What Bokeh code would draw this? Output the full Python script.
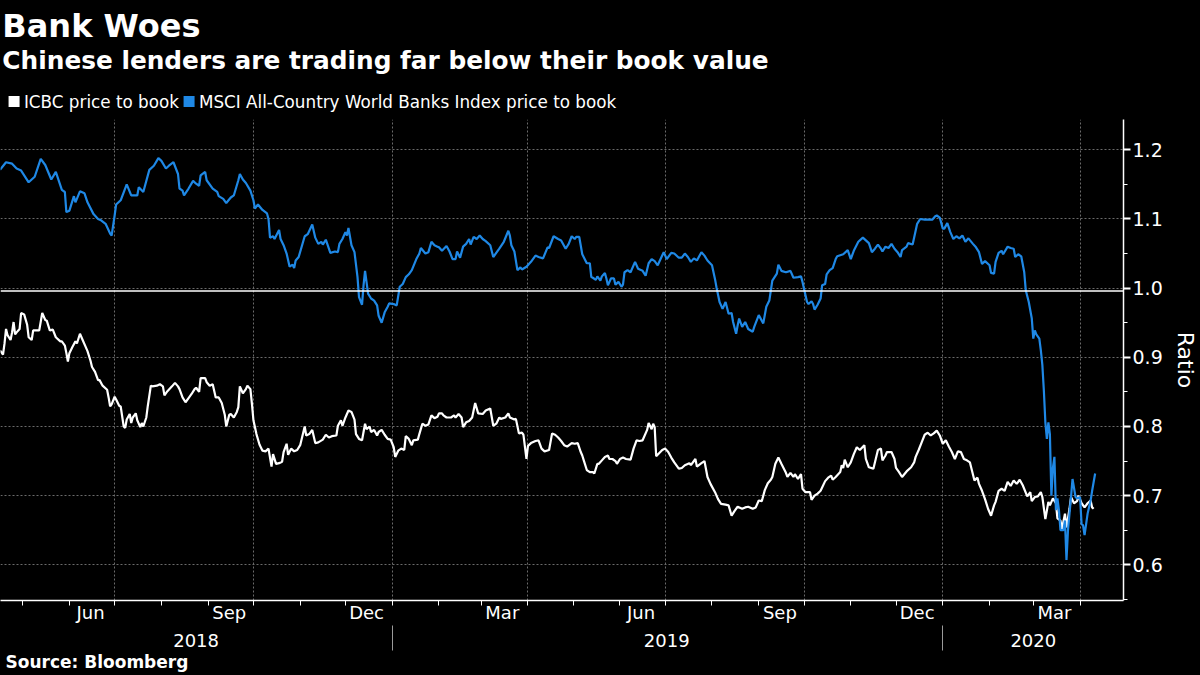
import pandas as pd
from bokeh.plotting import figure
from bokeh.layouts import column
from bokeh.core.properties import value
from bokeh.models import (FixedTicker, LinearAxis, Span, Range1d, Title,
                          NumeralTickFormatter)
from bokeh.embed import file_html
from bokeh.resources import INLINE

# ---------------- data ----------------
base_date = "2018-04-16"   # day 0 of the day offsets below

icbc_days = [0, 2, 3, 4, 5, 7, 8, 9, 10, 11, 13, 14, 16, 18, 19, 21, 22, 24, 26, 28, 30, 31, 33, 35, 37, 40, 41, 43, 44, 45, 46, 48, 50, 51, 53, 55, 57, 58, 60, 61, 63, 65, 66, 68, 71, 72, 73, 74, 76, 77, 79, 80, 82, 83, 84, 86, 87, 88, 90, 91, 93, 94, 95, 97, 98, 100, 101, 104, 106, 108, 109, 111, 114, 116, 118, 119, 121, 123, 125, 127, 129, 130, 132, 133, 136, 137, 139, 141, 143,
             145, 147, 149, 150, 152, 153, 155, 157, 158, 159, 161, 163, 164, 166, 167, 168, 170, 172, 174, 176, 178, 180, 181, 183, 185, 187, 188, 190, 191, 193, 195, 197, 199, 202, 203, 205, 207, 209, 211, 214, 216, 218, 220, 223, 224, 226, 227, 229, 231, 233, 235, 236, 238, 240, 242, 243, 245, 246, 248, 250, 251, 253, 255, 257, 259, 261, 262, 264, 266, 268, 269, 271, 273, 274, 277, 278, 280, 282, 284, 286, 288, 290,
             291, 293, 294, 296, 299, 301, 302, 304, 306, 307, 309, 311, 313, 315, 317, 320, 322, 325, 327, 329, 331, 332, 335, 337, 338, 341, 342, 344, 346, 347, 349, 350, 352, 355, 357, 359, 361, 364, 366, 368, 370, 372, 374, 376, 379, 381, 383, 385, 386, 387, 389, 391, 393, 394, 396, 397, 399, 401, 403, 404, 406, 408, 409, 411, 413, 415, 418, 420, 422, 424, 426, 429, 430, 432, 433, 434, 435,
             439, 441, 443, 445, 447, 450, 452, 454, 457, 458, 461, 462, 465, 467, 469, 471, 474, 476, 478, 481, 483, 485, 487, 489, 492, 494, 496, 499, 501, 503, 505, 507, 509, 511, 512, 514, 516, 518, 521, 522, 524, 526, 527, 529, 531, 532, 534, 537, 538, 540, 542, 544, 547, 549, 551, 552, 554, 557, 558, 559, 560, 562, 564, 566, 568, 570, 573, 574, 576, 579, 580,
             582, 584, 585, 587, 588, 591, 593, 594, 596, 598, 601, 604, 606, 607, 609, 611, 613, 615, 617, 619, 621, 623, 625, 627, 629, 631, 633, 635, 637, 639, 641, 643, 646, 648, 649, 651, 653, 655, 657, 659, 660, 662, 664, 666, 668, 670, 672, 674, 676, 678, 681, 683, 684, 686, 688, 690, 691, 693, 695, 696, 698, 700, 701, 703, 704, 706, 707, 709, 710, 712, 714, 715, 717, 719, 721, 723, 724, 725]
icbc_pb = [0.910, 0.904, 0.920, 0.941, 0.932, 0.925, 0.936, 0.951, 0.933, 0.936, 0.941, 0.964, 0.962, 0.947, 0.929, 0.925, 0.939, 0.939, 0.939, 0.964, 0.954, 0.953, 0.939, 0.940, 0.929, 0.923, 0.923, 0.917, 0.906, 0.894, 0.906, 0.915, 0.923, 0.920, 0.934, 0.924, 0.914, 0.909, 0.895, 0.886, 0.879, 0.867, 0.867, 0.859, 0.853, 0.842, 0.829, 0.832, 0.843, 0.839, 0.830, 0.829, 0.800, 0.798, 0.810, 0.818, 0.805, 0.813, 0.819, 0.809, 0.799, 0.805, 0.800, 0.813, 0.830, 0.859, 0.858, 0.859, 0.861, 0.858, 0.845, 0.851, 0.858, 0.863, 0.858, 0.854, 0.842, 0.835, 0.841, 0.847, 0.854, 0.856, 0.850, 0.870, 0.870, 0.864, 0.859, 0.861, 0.842,
           0.842, 0.834, 0.817, 0.800, 0.817, 0.818, 0.813, 0.821, 0.828, 0.858, 0.848, 0.854, 0.859, 0.854, 0.833, 0.809, 0.789, 0.774, 0.765, 0.764, 0.768, 0.742, 0.760, 0.746, 0.747, 0.749, 0.763, 0.775, 0.759, 0.768, 0.764, 0.766, 0.773, 0.800, 0.787, 0.789, 0.795, 0.776, 0.777, 0.781, 0.788, 0.784, 0.786, 0.787, 0.801, 0.809, 0.801, 0.813, 0.823, 0.821, 0.810, 0.789, 0.782, 0.780, 0.804, 0.796, 0.800, 0.792, 0.795, 0.787, 0.792, 0.795, 0.788, 0.782, 0.781, 0.770, 0.756, 0.765, 0.768, 0.766, 0.786, 0.782, 0.773, 0.780, 0.781, 0.789, 0.804, 0.801, 0.803, 0.816, 0.812, 0.814,
           0.819, 0.819, 0.816, 0.813, 0.813, 0.816, 0.813, 0.818, 0.813, 0.799, 0.806, 0.808, 0.813, 0.834, 0.819, 0.818, 0.823, 0.826, 0.801, 0.804, 0.813, 0.811, 0.813, 0.819, 0.813, 0.810, 0.811, 0.790, 0.791, 0.788, 0.753, 0.772, 0.776, 0.779, 0.780, 0.768, 0.764, 0.766, 0.790, 0.788, 0.784, 0.779, 0.773, 0.771, 0.776, 0.775, 0.776, 0.763, 0.758, 0.751, 0.737, 0.734, 0.734, 0.732, 0.746, 0.746, 0.751, 0.756, 0.758, 0.753, 0.753, 0.750, 0.746, 0.753, 0.755, 0.753, 0.752, 0.768, 0.780, 0.779, 0.780, 0.795, 0.805, 0.796, 0.804, 0.799, 0.757,
           0.766, 0.768, 0.763, 0.755, 0.748, 0.739, 0.740, 0.744, 0.747, 0.744, 0.753, 0.742, 0.747, 0.750, 0.727, 0.717, 0.705, 0.695, 0.688, 0.687, 0.686, 0.671, 0.678, 0.684, 0.681, 0.683, 0.684, 0.681, 0.683, 0.693, 0.692, 0.708, 0.718, 0.723, 0.727, 0.746, 0.755, 0.746, 0.733, 0.727, 0.733, 0.727, 0.731, 0.724, 0.731, 0.710, 0.705, 0.705, 0.694, 0.700, 0.703, 0.707, 0.721, 0.726, 0.729, 0.723, 0.727, 0.734, 0.744, 0.740, 0.752, 0.741, 0.748, 0.760, 0.770, 0.766, 0.773, 0.753, 0.741, 0.739, 0.748,
           0.766, 0.768, 0.751, 0.758, 0.763, 0.763, 0.753, 0.740, 0.734, 0.727, 0.735, 0.741, 0.748, 0.756, 0.766, 0.777, 0.788, 0.791, 0.787, 0.790, 0.794, 0.787, 0.775, 0.780, 0.771, 0.763, 0.753, 0.764, 0.763, 0.753, 0.751, 0.748, 0.722, 0.726, 0.717, 0.707, 0.695, 0.681, 0.671, 0.686, 0.691, 0.707, 0.710, 0.707, 0.720, 0.714, 0.722, 0.717, 0.723, 0.715, 0.699, 0.705, 0.692, 0.698, 0.699, 0.705, 0.698, 0.666, 0.691, 0.686, 0.696, 0.689, 0.667, 0.664, 0.652, 0.674, 0.654, 0.681, 0.698, 0.689, 0.692, 0.700, 0.689, 0.683, 0.689, 0.693, 0.683, 0.681]

msci_days = [0, 4, 8, 11, 14, 19, 23, 27, 30, 34, 37, 41, 43, 44, 46, 49, 50, 53, 56, 58, 62, 65, 67, 70, 73, 74, 76, 77, 80, 84, 87, 91, 92, 95, 99, 102, 105, 107, 110, 112, 115, 118, 119, 121, 122, 125, 128, 130, 132, 133, 136, 137, 141, 144,
             145, 148, 150, 153, 155, 158, 159, 161, 163, 166, 168, 169, 171, 174, 177, 178, 179, 181, 182, 185, 186, 188, 190, 192, 194, 195, 196, 198, 202, 204, 207, 209, 211, 213, 214, 216, 219, 222, 224, 225, 227, 229, 230, 231, 233, 235, 237, 238, 240, 241, 242, 244, 246, 248, 250, 251, 253, 255, 257, 258, 261, 263, 265, 267, 269, 271, 273, 276, 278, 279, 282, 284, 286, 288, 290,
             291, 293, 296, 298, 300, 302, 303, 305, 307, 309, 311, 312, 314, 316, 318, 320, 322, 325, 327, 331, 334, 337, 338, 339, 341, 343, 345, 346, 349, 352, 355, 357, 360, 363, 364, 367, 370, 372, 375, 377, 379, 381, 382, 384, 386, 389, 391, 392, 393, 395, 396, 398, 399, 401, 402, 403, 405, 407, 408, 410, 412, 413, 414, 416, 418, 421, 423, 426, 428, 430, 432, 434,
             436, 440, 442, 445, 447, 450, 452, 454, 456, 458, 460, 462, 465, 467, 469, 472, 474, 475, 477, 478, 479, 481, 483, 485, 486, 488, 489, 490, 492, 494, 496, 499, 500, 503, 506, 508, 510, 512, 515, 516, 518, 521, 524, 526, 529, 531, 532, 535, 536, 538, 539, 540, 542, 544, 545, 547, 548, 550, 552, 554, 555, 559, 562, 564, 566, 569, 572, 576, 578, 580,
             582, 584, 585, 587, 589, 591, 593, 595, 597, 598, 601, 602, 605, 607, 608, 610, 613, 616, 618, 620, 621, 623, 625, 626, 628, 630, 632, 634, 636, 638, 640, 642, 645, 647, 649, 651, 653, 656, 657, 659, 660, 662, 664, 665, 668, 670, 672, 673, 675, 677, 679, 680, 682, 684, 685, 686, 687, 689, 690, 691, 692, 693, 694, 695, 696, 697, 698, 699, 700, 701, 702, 703, 705, 706, 707, 708, 710, 711, 713, 714, 716, 717, 718, 719, 721, 723, 724, 726]
msci_pb = [1.171, 1.182, 1.180, 1.173, 1.170, 1.153, 1.161, 1.187, 1.178, 1.157, 1.168, 1.142, 1.139, 1.110, 1.112, 1.133, 1.124, 1.140, 1.137, 1.124, 1.107, 1.100, 1.098, 1.093, 1.079, 1.076, 1.105, 1.121, 1.127, 1.150, 1.134, 1.134, 1.146, 1.139, 1.171, 1.177, 1.188, 1.184, 1.173, 1.177, 1.182, 1.165, 1.144, 1.141, 1.134, 1.144, 1.155, 1.151, 1.148, 1.163, 1.168, 1.156, 1.144, 1.139,
           1.133, 1.129, 1.123, 1.131, 1.134, 1.156, 1.165, 1.157, 1.152, 1.141, 1.127, 1.115, 1.121, 1.113, 1.108, 1.100, 1.073, 1.075, 1.071, 1.084, 1.071, 1.062, 1.050, 1.031, 1.034, 1.029, 1.040, 1.045, 1.075, 1.078, 1.092, 1.073, 1.064, 1.067, 1.063, 1.070, 1.051, 1.053, 1.052, 1.064, 1.071, 1.081, 1.076, 1.087, 1.062, 1.052, 1.016, 0.987, 0.976, 1.004, 1.025, 0.992, 0.985, 0.982, 0.975, 0.960, 0.950, 0.965, 0.973, 0.978, 0.977, 0.975, 1.002, 1.006, 1.016, 1.020, 1.026, 1.042, 1.050, 1.058, 1.050, 1.052, 1.067, 1.062, 1.060,
           1.059, 1.054, 1.061, 1.053, 1.042, 1.042, 1.053, 1.044, 1.060, 1.064, 1.071, 1.063, 1.074, 1.071, 1.076, 1.071, 1.068, 1.062, 1.045, 1.057, 1.067, 1.083, 1.076, 1.062, 1.053, 1.026, 1.030, 1.027, 1.031, 1.038, 1.047, 1.045, 1.043, 1.059, 1.058, 1.075, 1.071, 1.069, 1.057, 1.064, 1.075, 1.071, 1.074, 1.074, 1.049, 1.036, 1.036, 1.016, 1.015, 1.012, 1.017, 1.011, 1.017, 1.022, 1.014, 1.004, 1.014, 1.014, 1.005, 1.009, 1.002, 1.005, 1.023, 1.026, 1.023, 1.038, 1.028, 1.025, 1.018, 1.036, 1.042, 1.039,
           1.033, 1.052, 1.042, 1.051, 1.050, 1.044, 1.044, 1.050, 1.045, 1.038, 1.043, 1.040, 1.052, 1.047, 1.040, 1.033, 1.013, 1.001, 0.980, 0.975, 0.970, 0.980, 0.963, 0.964, 0.951, 0.934, 0.946, 0.956, 0.944, 0.951, 0.941, 0.937, 0.944, 0.961, 0.949, 0.973, 0.982, 1.011, 1.021, 1.034, 1.025, 1.023, 1.025, 1.015, 1.016, 1.017, 1.009, 0.980, 0.977, 0.981, 0.977, 0.969, 0.976, 0.985, 1.004, 1.006, 1.020, 1.026, 1.029, 1.042, 1.046, 1.049, 1.055, 1.042, 1.054, 1.067, 1.073, 1.065, 1.052, 1.057,
           1.063, 1.057, 1.053, 1.060, 1.058, 1.064, 1.057, 1.052, 1.045, 1.055, 1.060, 1.065, 1.063, 1.083, 1.093, 1.100, 1.099, 1.099, 1.099, 1.104, 1.105, 1.102, 1.086, 1.086, 1.094, 1.081, 1.071, 1.075, 1.072, 1.076, 1.067, 1.072, 1.064, 1.059, 1.052, 1.035, 1.039, 1.033, 1.022, 1.021, 1.038, 1.051, 1.054, 1.049, 1.060, 1.058, 1.057, 1.045, 1.049, 1.046, 1.023, 0.997, 0.980, 0.956, 0.927, 0.939, 0.933, 0.927, 0.910, 0.889, 0.852, 0.806, 0.782, 0.806, 0.789, 0.700, 0.740, 0.756, 0.679, 0.696, 0.679, 0.650, 0.650, 0.664, 0.607, 0.650, 0.698, 0.724, 0.698, 0.696, 0.698, 0.659, 0.657, 0.643, 0.674, 0.693, 0.707, 0.732]

series_names = ["ICBC price to book", "MSCI All-Country World Banks Index price to book"]
month_labels = ["Jun", "Sep", "Dec", "Mar", "Jun", "Sep", "Dec", "Mar"]
month_label_dates = ["2018-06-15", "2018-09-15", "2018-12-15", "2019-03-15",
                     "2019-06-15", "2019-09-15", "2019-12-15", "2020-03-15"]
year_labels = ["2018", "2019", "2020"]
year_starts = ["2019-01-01", "2020-01-01"]
y_ticks = [0.6, 0.7, 0.8, 0.9, 1.0, 1.1, 1.2]
y_minor_ticks = [0.55, 0.65, 0.75, 0.85, 0.95, 1.05, 1.15, 1.25]
parity_line = 0.996

# ---------------- helpers ----------------
base = pd.Timestamp(base_date)


def day(s):
    return int((pd.Timestamp(s) - base).days)


month_starts = [day(t) for t in pd.date_range("2018-05-01", "2020-04-01", freq="MS")]
quarter_starts = [day(t) for t in pd.date_range("2018-07-01", "2020-04-01", freq="QS")]
month_pos = [day(s) for s in month_label_dates]
axis_end = 745
year_bounds = [0] + [day(s) for s in year_starts] + [axis_end]
year_pos = [int((year_bounds[i] + year_bounds[i + 1]) // 2) for i in range(3)]

FONT = "DejaVu Sans"
BLUE = "#1f88e5"
GRID = "#6a6a6a"
W = 1200
HEADER_H = 119

# ---------------- header: title, subtitle, legend ----------------
head = figure(width=W, height=HEADER_H, x_range=Range1d(0, W), y_range=Range1d(HEADER_H, 0),
              x_axis_location=None, y_axis_location=None, toolbar_location=None,
              output_backend="svg", background_fill_color="black", border_fill_color="black",
              outline_line_color=None, min_border=0)
head.xgrid.visible = False
head.ygrid.visible = False

TITLE_X, TITLE_Y = 2, 25
SUB_Y = 60
LEG_Y = 101
LEG_SQ_X = [14.5, 201.5]
LEG_TX_X = [25, 212]

head.text(x=[TITLE_X], y=[TITLE_Y], text=["Bank Woes"], text_font=value(FONT),
          text_font_size="32px", text_font_style="bold", text_color="white",
          text_baseline="middle")
head.text(x=[TITLE_X], y=[SUB_Y], text=["Chinese lenders are trading far below their book value"],
          text_font=value(FONT), text_font_size="24.8px", text_font_style="bold",
          text_color="white", text_baseline="middle")
head.scatter(x=LEG_SQ_X, y=[LEG_Y, LEG_Y], marker="square", size=11,
             color=["white", BLUE], line_width=0)
head.text(x=LEG_TX_X, y=[LEG_Y, LEG_Y], text=series_names, text_font=value(FONT),
          text_font_size="16.8px", text_color="white", text_baseline="middle")

# ---------------- main chart ----------------
p = figure(width=W, height=675 - HEADER_H,
           x_range=Range1d(0.33, 744.8), y_range=Range1d(0.5484, 1.2438),
           y_axis_location="right", toolbar_location=None, output_backend="svg",
           background_fill_color="black", border_fill_color="black",
           outline_line_color=None,
           min_border_left=0, min_border_right=74, min_border_top=0, min_border_bottom=75)

# grids
p.xgrid.ticker = FixedTicker(ticks=quarter_starts)
p.ygrid.ticker = FixedTicker(ticks=y_ticks)
for g in (p.xgrid[0], p.ygrid[0]):
    g.grid_line_color = GRID
    g.grid_line_dash = "2 2"
    g.grid_line_width = 1

# month axis
xa = p.xaxis[0]
xa.ticker = FixedTicker(ticks=month_pos, minor_ticks=month_starts)
xa.major_label_overrides = {pos: lab for pos, lab in zip(month_pos, month_labels)}
xa.major_tick_out = 0
xa.major_tick_in = 0
xa.minor_tick_out = 5
xa.minor_tick_in = 0
xa.minor_tick_line_color = "white"
xa.axis_line_color = "white"
xa.axis_line_width = 1.5
xa.major_label_text_color = "white"
xa.major_label_text_font = FONT
xa.major_label_text_font_size = "18px"
xa.major_label_standoff = -4

# year axis
ya2 = LinearAxis(ticker=FixedTicker(ticks=year_pos, minor_ticks=[day(s) for s in year_starts]),
                 major_label_overrides={pos: lab for pos, lab in zip(year_pos, year_labels)})
ya2.major_tick_out = 0
ya2.major_tick_in = 0
ya2.minor_tick_in = 0
ya2.minor_tick_out = 25
ya2.minor_tick_line_color = "#9a9a9a"
ya2.axis_line_color = None
ya2.major_label_text_color = "white"
ya2.major_label_text_font = FONT
ya2.major_label_text_font_size = "18px"
ya2.major_label_standoff = -17
p.add_layout(ya2, "below")

p.add_layout(Title(text="Source: Bloomberg", align="left", offset=5, standoff=0,
                   text_font=FONT, text_font_size="17px", text_font_style="bold",
                   text_color="white"), "below")

# right value axis
ry = p.yaxis[0]
ry.ticker = FixedTicker(ticks=y_ticks, minor_ticks=y_minor_ticks)
ry.formatter = NumeralTickFormatter(format="0.0")
ry.axis_line_color = "white"
ry.axis_line_width = 1.5
ry.major_tick_out = 7
ry.major_tick_in = 0
ry.major_tick_line_color = "white"
ry.major_tick_line_width = 2
ry.minor_tick_out = 4
ry.minor_tick_in = 0
ry.minor_tick_line_color = "white"
ry.major_label_text_color = "white"
ry.major_label_text_font = FONT
ry.major_label_text_font_size = "19px"
ry.major_label_standoff = 2
ry.axis_label = "Ratio"
ry.axis_label_text_color = "white"
ry.axis_label_text_font = FONT
ry.axis_label_text_font_size = "22px"
ry.axis_label_text_font_style = "normal"
ry.axis_label_standoff = 7

# series
p.line(icbc_days, icbc_pb, line_color="white", line_width=2.2)
p.line(msci_days, msci_pb, line_color=BLUE, line_width=2.2)
p.add_layout(Span(location=parity_line, dimension="width", line_color="white", line_width=1.5))

layout = column(head, p, spacing=0)
try:
    from bokeh.models import GlobalInlineStyleSheet
    layout.stylesheets = [GlobalInlineStyleSheet(css="html, body { background-color: #000000; }")]
except Exception:
    pass

open("out.html", "w").write(file_html(layout, INLINE))
